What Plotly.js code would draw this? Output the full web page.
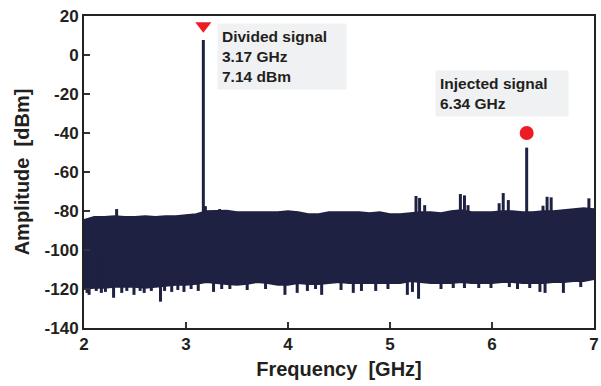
<!DOCTYPE html>
<html>
<head>
<meta charset="utf-8">
<script src="https://cdn.plot.ly/plotly-3.0.1.min.js"></script>
<style>html,body{margin:0;padding:0;background:#fff;}#chart{width:601px;height:386px;}</style>
</head>
<body>
<div id="chart"></div>
<script>
// Noise floor envelope (GHz, dBm)
const freqGrid = [2.0,2.1,2.2,2.3,2.4,2.5,2.6,2.7,2.8,2.9,3.0,3.1,3.2,3.3,3.4,3.5,3.6,3.7,3.8,3.9,4.0,4.1,4.2,4.3,4.4,4.5,4.6,4.7,4.8,4.9,5.0,5.1,5.2,5.3,5.4,5.5,5.6,5.7,5.8,5.9,6.0,6.1,6.2,6.3,6.4,6.5,6.6,6.7,6.8,6.9,7.0];
const upperEnv = [-84.5,-83,-83,-82.5,-83,-83,-82.5,-83,-82.5,-82.5,-82,-81.5,-80,-80,-79.8,-80.5,-80.5,-80.5,-80.5,-80.5,-80,-80.5,-81.5,-81.5,-80.5,-80.5,-80.5,-80.5,-81,-80.5,-81.5,-81.5,-81,-80.5,-80.5,-81,-80,-79.5,-80.5,-80.5,-80.5,-80,-80,-80.5,-80.5,-80,-80,-79.5,-79,-78.5,-79];
const lowerEnv = [-120,-119.5,-119.5,-119,-119,-119,-119.5,-119,-118.5,-118,-118,-117.5,-116.5,-117,-117.5,-118,-117.5,-116.5,-117,-118,-118,-117,-117.5,-117.5,-117,-116.5,-117,-117,-117,-117,-117,-117,-116,-116.5,-117,-117,-117,-116.5,-117,-117,-117,-116.5,-116.5,-117,-117,-117,-116.5,-116.5,-116,-116,-115];

// Spurs above the floor
const spurFreq  = [2.32,3.19,3.33,5.255,5.29,5.34,5.69,5.73,5.765,6.07,6.11,6.16,6.5,6.54,6.58,6.95];
const spurLevel = [-79,-77.5,-79,-72.3,-73.3,-77,-71.3,-72,-77,-76,-70.8,-74.4,-77.3,-72.7,-73,-73.5];

// Dips below the floor
const dipFreq  = [2.03,2.05,2.12,2.17,2.21,2.29,2.37,2.42,2.49,2.55,2.59,2.66,2.75,2.79,2.86,2.92,2.98,3.05,3.12,3.27,3.35,3.43,3.6,3.78,3.97,4.09,4.19,4.27,4.33,4.52,4.64,4.72,4.86,4.98,5.17,5.22,5.28,5.5,5.62,5.73,5.87,5.99,6.17,6.25,6.37,6.47,6.52,6.7,6.87];
const dipLevel = [-122,-123,-121,-122,-121.5,-124.5,-122,-121,-123,-121,-122,-121,-126.5,-121,-121.5,-120.5,-121.5,-120,-121,-121.5,-120,-120,-120.5,-120,-123,-122,-121,-120,-123,-120.5,-122,-121,-121,-120,-123,-121.5,-125,-120,-119.5,-119.5,-119.5,-119.5,-119,-120,-119.5,-121.5,-122,-122,-119,-119];

// Carriers
const carrierFreq  = [3.17, 6.34];
const carrierLevel = [7.7, -47.5];
const carrierNames = ["Divided signal", "Injected signal"];
// Marker positions above the carriers
const markerFreq  = [3.17, 6.34];
const markerLevel = [15, -40];
const markerSymbol = ["triangle-down", "circle"];

const NAVY = "#1e2142";
const FLOOR_MID = -100;

function sticks(fs, ls) {
  const x = [], y = [];
  fs.forEach((f, i) => { x.push(f, f, null); y.push(FLOOR_MID, ls[i], null); });
  return {x, y};
}

const band = {
  x: freqGrid.concat(freqGrid.slice().reverse()),
  y: upperEnv.concat(lowerEnv.slice().reverse()),
  type: "scatter", mode: "lines", fill: "toself",
  fillcolor: NAVY, line: {color: NAVY, width: 1.5}, hoverinfo: "skip", showlegend: false
};
const sp = sticks(spurFreq, spurLevel);
const spurs = {x: sp.x, y: sp.y, type: "scatter", mode: "lines", line: {color: NAVY, width: 3}, showlegend: false};
const dp = sticks(dipFreq, dipLevel);
const dips = {x: dp.x, y: dp.y, type: "scatter", mode: "lines", line: {color: NAVY, width: 3}, showlegend: false};
const cp = sticks(carrierFreq, carrierLevel);
const carriers = {x: cp.x, y: cp.y, type: "scatter", mode: "lines", line: {color: NAVY, width: 3}, showlegend: false};
const markers = {
  x: markerFreq, y: markerLevel, type: "scatter", mode: "markers", cliponaxis: false,
  marker: {color: "#ed1c24", opacity: 1, size: [14, 14], symbol: markerSymbol, line: {width: 0}}, showlegend: false
};

const FONT = "Liberation Sans, Arial, sans-serif";
const TXT = "#231f20";

const layout = {
  width: 601, height: 386,
  margin: {l: 84, r: 7, t: 16, b: 58},
  paper_bgcolor: "#fff", plot_bgcolor: "#fff",
  font: {family: FONT, color: TXT},
  xaxis: {
    range: [2, 7], tickvals: [2,3,4,5,6,7], ticktext: ["2","3","4","5","6","7"],
    ticks: "inside", ticklen: 6, tickwidth: 1.5, tickcolor: "#333",
    showline: true, linecolor: "#222", linewidth: 2, mirror: true,
    showgrid: false, zeroline: false,
    tickfont: {size: 17, family: FONT, weight: "bold", color: TXT},
    title: {text: "Frequency  [GHz]", font: {size: 20, family: FONT, weight: "bold", color: TXT}, standoff: 9}
  },
  yaxis: {
    range: [-140, 20], tickvals: [20,0,-20,-40,-60,-80,-100,-120,-140],
    ticktext: ["20","0","-20","-40","-60","-80","-100","-120","-140"],
    ticks: "inside", ticklen: 6, tickwidth: 1.5, tickcolor: "#333",
    showline: true, linecolor: "#222", linewidth: 2, mirror: true,
    showgrid: false, zeroline: false,
    tickfont: {size: 17, family: FONT, weight: "bold", color: TXT},
    title: {text: "Amplitude  [dBm]", font: {size: 20, family: FONT, weight: "bold", color: TXT}, standoff: 10}
  },
  annotations: [
    {x: 3.30, y: 16.4, xref: "x", yref: "y", xanchor: "left", yanchor: "top",
     text: carrierNames[0] + "<br>" + carrierFreq[0].toFixed(2) + " GHz<br>7.14 dBm",
     showarrow: false, align: "left", bgcolor: "#f0f1f3", borderpad: 4, width: 120,
     font: {size: 15.5, family: FONT, weight: "bold", color: TXT}},
    {x: 5.44, y: -7.7, xref: "x", yref: "y", xanchor: "left", yanchor: "top",
     text: carrierNames[1] + "<br>" + carrierFreq[1].toFixed(2) + " GHz",
     showarrow: false, align: "left", bgcolor: "#f0f1f3", borderpad: 4, width: 124,
     font: {size: 15.5, family: FONT, weight: "bold", color: TXT}}
  ]
};

Plotly.newPlot("chart", [band, dips, spurs, carriers, markers], layout, {staticPlot: true, displayModeBar: false});
</script>
</body>
</html>
